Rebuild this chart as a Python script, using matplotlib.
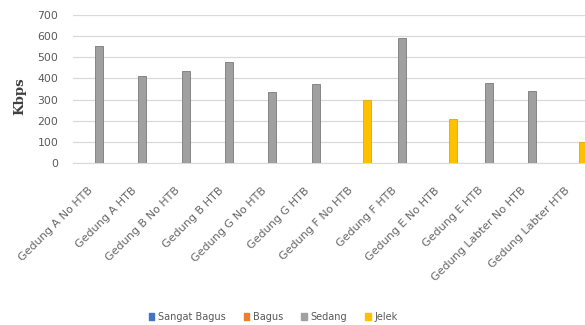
import matplotlib
matplotlib.use("Agg")
import matplotlib.pyplot as plt
import matplotlib.transforms as mtransforms
import numpy as np

categories = ["Gedung A No HTB", "Gedung A HTB", "Gedung B No HTB", "Gedung B HTB",
              "Gedung G No HTB", "Gedung G HTB", "Gedung F No HTB", "Gedung F HTB",
              "Gedung E No HTB", "Gedung E HTB", "Gedung Labter No HTB", "Gedung Labter HTB"]
sangat_bagus = [0, 0, 0, 0, 0, 0, 0, 0, 0, 0, 0, 0]
bagus = [0, 0, 0, 0, 0, 0, 0, 0, 0, 0, 0, 0]
sedang = [555, 412, 437, 478, 338, 374, 0, 593, 0, 380, 341, 0]
jelek = [0, 0, 0, 0, 0, 0, 296, 0, 209, 0, 0, 99]
series_names = ["Sangat Bagus", "Bagus", "Sedang", "Jelek"]
yticks = [0, 100, 200, 300, 400, 500, 600, 700]

colors = ["#4472C4", "#ED7D31", "#A0A0A0", "#FFC000"]
edges = ["#3A62A8", "#C96A2A", "#7A7A7A", "#E0A800"]

fig = plt.figure(figsize=(5.85, 3.25), dpi=100)
ax = fig.add_axes([0.1256, 0.4985, 0.888, 0.4554])

x = np.arange(len(categories))
w = 0.185
for i, (vals, c, e, name) in enumerate(zip([sangat_bagus, bagus, sedang, jelek], colors, edges, series_names)):
    ax.bar(x + (i - 1.5) * w, vals, width=w, color=c, edgecolor=e, linewidth=0.6, label=name, zorder=3)

ax.set_ylim(0, 700)
ax.set_xlim(-0.5, len(categories) - 0.5)
ax.set_yticks(yticks)
ax.set_yticklabels([str(v) for v in yticks], fontsize=7.8, color="#595959")
ax.yaxis.grid(True, color="#D9D9D9", linewidth=0.9, zorder=0)
ax.set_axisbelow(True)
for s in ["top", "right", "left"]:
    ax.spines[s].set_visible(False)
ax.spines["bottom"].set_color("#D9D9D9")
ax.tick_params(axis="y", length=0, pad=11)
ax.set_xticks(x)
ax.set_xticklabels(categories, rotation=45, ha="right", rotation_mode="anchor",
                   fontsize=8, color="#666666")
ax.tick_params(axis="x", length=0, pad=16)
offset = mtransforms.ScaledTranslation(-0.07, 0, fig.dpi_scale_trans)
for lbl in ax.get_xticklabels():
    lbl.set_transform(lbl.get_transform() + offset)

fig.text(0.034, 0.705, "Kbps", rotation=90, fontsize=9.5, fontweight="bold",
         color="#404040", family="DejaVu Serif", ha="center", va="center")

handles = [plt.Rectangle((0, 0), 1, 1, color=c) for c in colors]
fig.legend(handles, series_names, loc="center", bbox_to_anchor=(0.467, 0.025), ncol=4,
           frameon=False, fontsize=7, handlelength=0.6, handleheight=0.6,
           handletextpad=0.4, columnspacing=1.8, labelcolor="#595959")

fig.savefig("out.png", dpi=100)
